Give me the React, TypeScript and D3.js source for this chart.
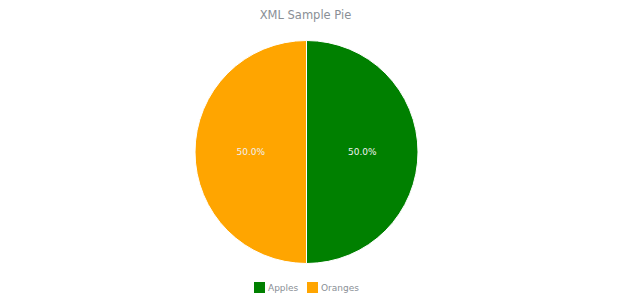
import React from "react";
import * as d3 from "d3";

const categories = ["Apples", "Oranges"];
const values = [50, 50];
const colors = ["#008000", "#FFA500"];
const title = "XML Sample Pie";

export default function App() {
  const W = 620, H = 300;
  const cx = 306.5, cy = 152, r = 111.5;
  const total = d3.sum(values);
  const pie = d3.pie<number>().sort(null).value((d) => d)(values);
  const arc = d3.arc<d3.PieArcDatum<number>>().innerRadius(0).outerRadius(r);
  const labelArc = d3.arc<d3.PieArcDatum<number>>().innerRadius(r / 2).outerRadius(r / 2);
  const font = "DejaVu Sans, sans-serif";
  const legendX = [254, 307];
  return (
    <svg width={W} height={H} style={{ position: "absolute", left: 0, top: 0 }} fontFamily={font}>
      <rect width={W} height={H} fill="#fff" />
      <text x={305.5} y={18.5} textAnchor="middle" fontSize={11.5} fill="#8a8f96">{title}</text>
      <g transform={`translate(${cx},${cy})`}>
        {pie.map((p, i) => (
          <path key={i} d={arc(p) || ""} fill={colors[i]} stroke="#fff" strokeWidth={1} />
        ))}
        {pie.map((p, i) => {
          const [x, y] = labelArc.centroid(p);
          return (
            <text key={i} x={x} y={y} dy="0.35em" textAnchor="middle" fontSize={9} fill="#f0f0f0">
              {((values[i] / total) * 100).toFixed(1) + "%"}
            </text>
          );
        })}
      </g>
      {categories.map((c, i) => (
        <g key={c} transform={`translate(${legendX[i]},282)`}>
          <rect width={11} height={11} fill={colors[i]} />
          <text x={14} y={9} fontSize={9} fill="#8a8f96">{c}</text>
        </g>
      ))}
    </svg>
  );
}
